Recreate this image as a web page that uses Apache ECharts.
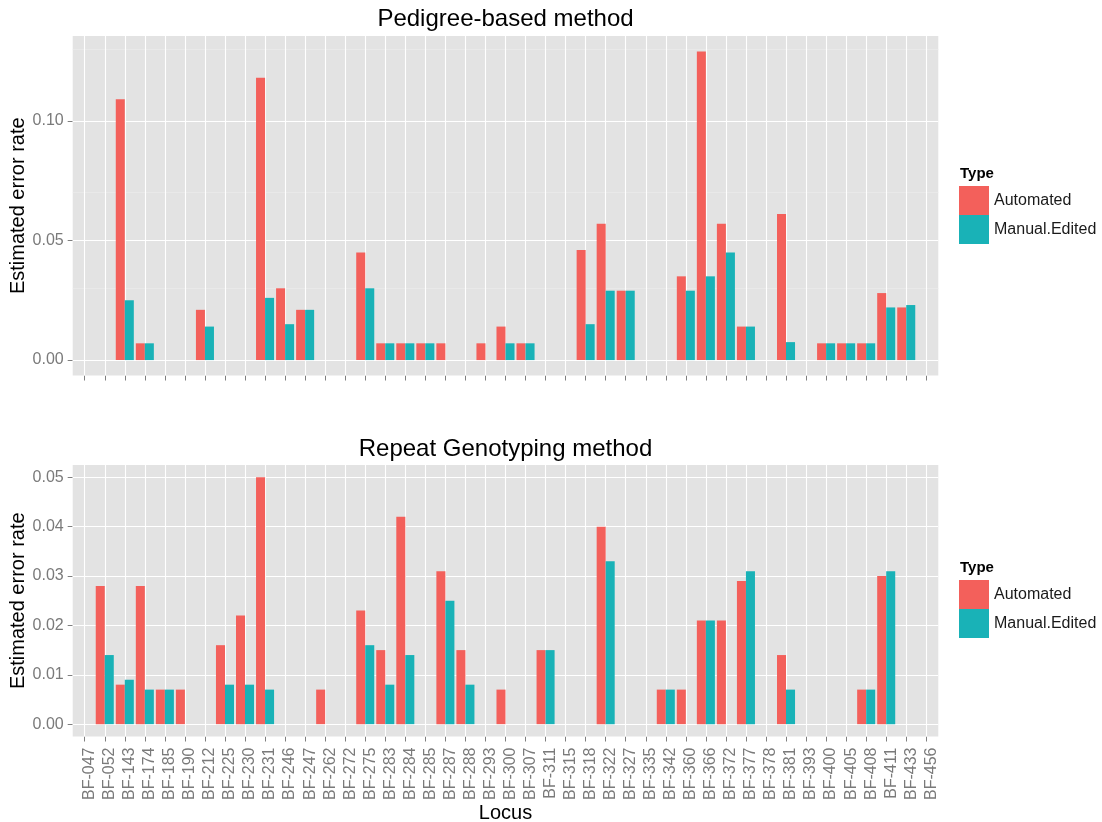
<!DOCTYPE html>
<html>
<head>
<meta charset="utf-8">
<script src="https://cdn.jsdelivr.net/npm/echarts@6/dist/echarts.min.js"></script>
<style>
html,body{margin:0;padding:0;background:#fff;}
#chart{width:1102px;height:822px;}
</style>
</head>
<body>
<div id="chart"></div>
<script>
// ---------- data ----------
const categories = ['BF-047','BF-052','BF-143','BF-174','BF-185','BF-190','BF-212','BF-225','BF-230','BF-231',
  'BF-246','BF-247','BF-262','BF-272','BF-275','BF-283','BF-284','BF-285','BF-287','BF-288',
  'BF-293','BF-300','BF-307','BF-311','BF-315','BF-318','BF-322','BF-327','BF-335','BF-342',
  'BF-360','BF-366','BF-372','BF-377','BF-378','BF-381','BF-393','BF-400','BF-405','BF-408',
  'BF-411','BF-433','BF-456'];

// Pedigree-based method
const pedAutomated = [null,null,0.109,0.007,null,null,0.021,null,null,0.118,
  0.030,0.021,null,null,0.045,0.007,0.007,0.007,0.007,null,
  0.007,0.014,0.007,null,null,0.046,0.057,0.029,null,null,
  0.035,0.129,0.057,0.014,null,0.061,null,0.007,0.007,0.007,
  0.028,0.022,null];
const pedManual = [null,null,0.025,0.007,null,null,0.014,null,null,0.026,
  0.015,0.021,null,null,0.030,0.007,0.007,0.007,null,null,
  null,0.007,0.007,null,null,0.015,0.029,0.029,null,null,
  0.029,0.035,0.045,0.014,null,0.0075,null,0.007,0.007,0.007,
  0.022,0.023,null];

// Repeat Genotyping method
const repAutomated = [null,0.028,0.008,0.028,0.007,0.007,null,0.016,0.022,0.050,
  null,null,0.007,null,0.023,0.015,0.042,null,0.031,0.015,
  null,0.007,null,0.015,null,null,0.040,null,null,0.007,
  0.007,0.021,0.021,0.029,null,0.014,null,null,null,0.007,
  0.030,null,null];
const repManual = [null,0.014,0.009,0.007,0.007,null,null,0.008,0.008,0.007,
  null,null,null,null,0.016,0.008,0.014,null,0.025,0.008,
  null,null,null,0.015,null,null,0.033,null,null,0.007,
  null,0.021,null,0.031,null,0.007,null,null,null,0.007,
  0.031,null,null];

const pedTicks = [0, 0.05, 0.10];
const pedMinorTicks = [0.025, 0.075, 0.125];
const repTicks = [0, 0.01, 0.02, 0.03, 0.04, 0.05];
const repMinorTicks = [0.005, 0.015, 0.025, 0.035, 0.045];

const seriesNames = ['Automated', 'Manual.Edited'];
const titles = ['Pedigree-based method', 'Repeat Genotyping method'];

// ---------- styling / layout ----------
const FONT = "'Liberation Sans', Arial, Helvetica, sans-serif";
const RED = '#F3605B', TEAL = '#19B2B7';
const PANEL_BG = '#E3E3E3', MINOR = '#EDEDED', TICK = '#7F7F7F', AXTXT = '#7A7A7A';

const panelLeft = 72.7, panelRight = 938.3;
const panelW = panelRight - panelLeft;
const nCat = categories.length;
const unit = panelW / (nCat - 1 + 1.2);
const dataLeft = panelLeft + 0.1 * unit;
const dataW = nCat * unit;

const panels = [
  {top: 36, height: 339.5},
  {top: 465, height: 271.5}
];

function range(arrs) {
  let mx = 0;
  arrs.forEach(a => a.forEach(v => { if (v != null && v > mx) mx = v; }));
  return [-0.05 * mx, 1.05 * mx];
}
const pedRange = range([pedAutomated, pedManual]);
const repRange = range([repAutomated, repManual]);

function gridLines(major, minor) {
  const d = [];
  minor.forEach(v => d.push({yAxis: v, lineStyle: {color: MINOR, width: 0.6, type: 'solid'}}));
  major.forEach(v => d.push({yAxis: v, lineStyle: {color: '#FFFFFF', width: 1.1, type: 'solid'}}));
  categories.forEach((c, i) => d.push({xAxis: i, lineStyle: {color: '#FFFFFF', width: 1.1, type: 'solid'}}));
  return d;
}

function helper(axisIdx, major, minor) {
  return {
    type: 'line', xAxisIndex: axisIdx, yAxisIndex: axisIdx, data: [], silent: true,
    markLine: {
      z: 1, silent: true, animation: false, symbol: ['none', 'none'],
      label: {show: false}, emphasis: {disabled: true},
      data: gridLines(major, minor)
    }
  };
}

function bar(name, data, color, axisIdx) {
  return {
    name, type: 'bar', xAxisIndex: axisIdx, yAxisIndex: axisIdx, data,
    barGap: '0%', barCategoryGap: '10%', z: 2,
    itemStyle: {color}, emphasis: {disabled: true}, animation: false
  };
}

const grids = [];
const xAxes = [];
const yAxes = [];
[[pedRange, pedTicks], [repRange, repTicks]].forEach(([rg, ticks], p) => {
  const pn = panels[p];
  grids.push({left: panelLeft, top: pn.top, width: panelW, height: pn.height, show: true, backgroundColor: PANEL_BG, borderWidth: 0, containLabel: false, outerBoundsMode: 'none'});
  grids.push({left: dataLeft, top: pn.top, width: dataW, height: pn.height, containLabel: false, outerBoundsMode: 'none'});
  xAxes.push({gridIndex: 2 * p, type: 'value', min: -0.6, max: nCat - 0.4, show: false});
  yAxes.push({gridIndex: 2 * p, type: 'value', min: rg[0], max: rg[1], show: false});
  const isBottom = p === 1;
  xAxes.push({
    gridIndex: 2 * p + 1, type: 'category', data: categories, position: 'bottom',
    axisLine: {show: false, onZero: false},
    axisTick: {show: true, alignWithLabel: true, interval: 0, length: 5, lineStyle: {color: TICK, width: 1}},
    axisLabel: isBottom ? {show: true, interval: 0, rotate: 90, margin: 11, fontSize: 16, fontFamily: FONT, color: AXTXT, verticalAlign: 'top', lineHeight: 10} : {show: false},
    splitLine: {show: false},
    name: isBottom ? 'Locus' : '', nameLocation: 'middle', nameGap: 67, nameMoveOverlap: false,
    nameTextStyle: {fontSize: 20, fontFamily: FONT, color: '#000'}
  });
  yAxes.push({
    gridIndex: 2 * p + 1, type: 'value', min: rg[0], max: rg[1], offset: dataLeft - panelLeft,
    axisLine: {show: false, onZero: false},
    axisTick: {show: true, length: 5, customValues: ticks, lineStyle: {color: TICK, width: 1}},
    axisLabel: {show: true, customValues: ticks, formatter: v => v.toFixed(2), margin: 9, fontSize: 16, fontFamily: FONT, color: AXTXT},
    splitLine: {show: false},
    name: 'Estimated error rate', nameLocation: 'middle', nameGap: 44, nameMoveOverlap: false,
    nameTextStyle: {fontSize: 20, fontFamily: FONT, color: '#000'}
  });
});

const option = {
  backgroundColor: '#FFFFFF',
  animation: false,
  textStyle: {fontFamily: FONT},
  grid: grids,
  xAxis: xAxes,
  yAxis: yAxes,
  legend: [186, 580].map(t => ({
    data: seriesNames, orient: 'vertical', left: 959, top: t,
    itemWidth: 30, itemHeight: 29, itemGap: 0, padding: 0, icon: 'rect',
    selectedMode: false,
    textStyle: {fontSize: 16, fontFamily: FONT, color: '#1A1A1A'}
  })),
  graphic: [
    {type: 'text', x: (panelLeft + panelRight) / 2, y: 19.7, style: {text: titles[0], fontSize: 24, fontFamily: FONT, fill: '#000', align: 'center', verticalAlign: 'middle', textAlign: 'center', textVerticalAlign: 'middle'}},
    {type: 'text', x: (panelLeft + panelRight) / 2, y: 449.5, style: {text: titles[1], fontSize: 24, fontFamily: FONT, fill: '#000', align: 'center', verticalAlign: 'middle', textAlign: 'center', textVerticalAlign: 'middle'}},
    {type: 'text', x: 960, y: 174.3, style: {text: 'Type', fontSize: 15, fontWeight: 'bold', fontFamily: FONT, fill: '#000', align: 'left', verticalAlign: 'middle', textAlign: 'left', textVerticalAlign: 'middle'}},
    {type: 'text', x: 960, y: 568.3, style: {text: 'Type', fontSize: 15, fontWeight: 'bold', fontFamily: FONT, fill: '#000', align: 'left', verticalAlign: 'middle', textAlign: 'left', textVerticalAlign: 'middle'}}
  ],
  series: [
    helper(0, pedTicks, pedMinorTicks),
    bar(seriesNames[0], pedAutomated, RED, 1),
    bar(seriesNames[1], pedManual, TEAL, 1),
    helper(2, repTicks, repMinorTicks),
    bar(seriesNames[0], repAutomated, RED, 3),
    bar(seriesNames[1], repManual, TEAL, 3)
  ]
};

const chart = echarts.init(document.getElementById('chart'), null, {renderer: 'canvas'});
chart.setOption(option);
</script>
</body>
</html>
